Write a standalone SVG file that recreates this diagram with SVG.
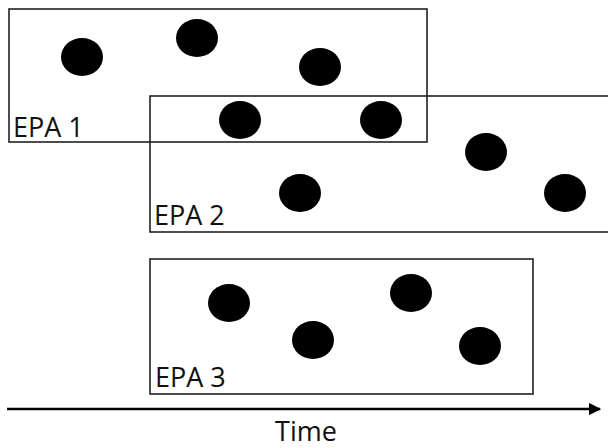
<svg xmlns="http://www.w3.org/2000/svg" width="608" height="448" viewBox="0 0 608 448">
<style>
.box{fill:none;stroke:#222;stroke-width:1.6}
.dot{fill:#000}
.lbl{font-family:"Open Sans","Liberation Sans",sans-serif;font-size:27px;fill:#111}
</style>
<defs>
<marker id="ah" viewBox="0 0 10 10" refX="9" refY="5" markerWidth="5" markerHeight="5" orient="auto" markerUnits="strokeWidth">
<path d="M0,0 L10,5 L0,10 z" fill="#000"/>
</marker>
</defs>
<rect width="608" height="448" fill="#fff"/>
<g id="epa1">
<rect class="box" x="9" y="9" width="418" height="133"/>
<text class="lbl" x="13" y="137">EPA 1</text>
<ellipse class="dot" cx="82" cy="57" rx="21" ry="19"/>
<ellipse class="dot" cx="197" cy="38" rx="21" ry="19"/>
<ellipse class="dot" cx="320" cy="67" rx="21" ry="19"/>
</g>
<g id="epa2">
<rect class="box" x="150" y="96" width="470" height="136"/>
<text class="lbl" x="154" y="225">EPA 2</text>
<ellipse class="dot" cx="240" cy="120" rx="21" ry="19"/>
<ellipse class="dot" cx="381" cy="120" rx="21" ry="19"/>
<ellipse class="dot" cx="486" cy="152" rx="21" ry="19"/>
<ellipse class="dot" cx="300" cy="193" rx="21" ry="19"/>
<ellipse class="dot" cx="565" cy="193" rx="21" ry="19"/>
</g>
<g id="epa3">
<rect class="box" x="150" y="259" width="383" height="135"/>
<text class="lbl" x="155" y="387">EPA 3</text>
<ellipse class="dot" cx="229" cy="303" rx="21" ry="19"/>
<ellipse class="dot" cx="313" cy="340" rx="21" ry="19"/>
<ellipse class="dot" cx="411" cy="293" rx="21" ry="19"/>
<ellipse class="dot" cx="480" cy="346" rx="21" ry="19"/>
</g>
<g id="connectors">
<line x1="7" y1="409" x2="600" y2="409" stroke="#000" stroke-width="2.5" marker-end="url(#ah)"/>
</g>
<g id="axis-label">
<text class="lbl" x="306" y="441" text-anchor="middle">Time</text>
</g>
</svg>
